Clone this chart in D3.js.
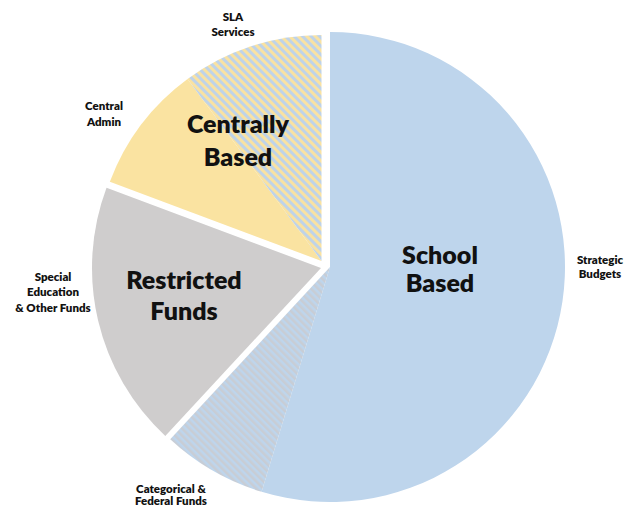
<!DOCTYPE html>
<html>
<head>
<meta charset="utf-8">
<script src="https://cdn.jsdelivr.net/npm/d3@7"></script>
<style>
  html, body { margin: 0; padding: 0; background: #ffffff; }
  svg { display: block; }
</style>
</head>
<body>
<svg id="chart" width="635" height="510"></svg>
<script>
// Budget shares (%) by funding line, clockwise from 12 o'clock
const segments = ["Strategic Budgets", "Categorical & Federal Funds", "Special Education & Other Funds", "Central Admin", "SLA Services"];
const shares = [54.7, 7.2, 18.8, 9.2, 10.1];
const segmentGroup = ["School Based", "School Based", "Restricted Funds", "Centrally Based", "Centrally Based"];
const groups = ["School Based", "Restricted Funds", "Centrally Based"];

// Text drawn for each funding line and each group
const segmentLabelLines = [["Strategic", "Budgets"], ["Categorical &", "Federal Funds"], ["Special", "Education", "& Other Funds"], ["Central", "Admin"], ["SLA", "Services"]];
const groupLabelLines = [["School", "Based"], ["Restricted", "Funds"], ["Centrally", "Based"]];

// ---- presentation ----
const fills = {
  "Strategic Budgets": "#bed5ec",
  "Categorical & Federal Funds": "url(#hatch-categorical)",
  "Special Education & Other Funds": "#cfcdcd",
  "Central Admin": "#fae3a1",
  "SLA Services": "url(#hatch-sla)"
};
// each group is pulled slightly apart from the others
const groupLayout = {
  "School Based":     { cx: 330,   cy: 267, r: 235 },
  "Restricted Funds": { cx: 321,   cy: 268, r: 229 },
  "Centrally Based":  { cx: 321.5, cy: 261, r: 226 }
};
const segmentLabelLayout = {
  "Strategic Budgets":               { x: 600, y: 263.5, dy: 14 },
  "Categorical & Federal Funds":     { x: 171, y: 492.5, dy: 12.5 },
  "Special Education & Other Funds": { x: 53,  y: 280.5, dy: 15.7 },
  "Central Admin":                   { x: 104, y: 110,   dy: 16 },
  "SLA Services":                    { x: 233, y: 21,    dy: 14.5 }
};
const groupLabelLayout = {
  "School Based":     { x: 440, y: 264, dy: 28 },
  "Restricted Funds": { x: 184, y: 289, dy: 30.5 },
  "Centrally Based":  { x: 238, y: 133, dy: 33 }
};
const fontFamily = "Lato, 'Open Sans', 'DejaVu Sans', sans-serif";

const svg = d3.select("#chart");

// stripe patterns for the two hatched funding lines
const defs = svg.append("defs");
function stripes(id, base, stripe, size, angle) {
  const p = defs.append("pattern")
    .attr("id", id)
    .attr("patternUnits", "userSpaceOnUse")
    .attr("width", size).attr("height", size)
    .attr("patternTransform", `rotate(${angle})`);
  p.append("rect").attr("width", size).attr("height", size).attr("fill", base);
  p.append("rect").attr("width", size / 2).attr("height", size).attr("fill", stripe);
}
stripes("hatch-sla", "#f9e2a2", "#bfd3e8", 6, -45);
stripes("hatch-categorical", "#bed5ec", "#c8cdd5", 5, -45);

const pie = d3.pie().sort(null).value(d => d.value).startAngle(0).endAngle(2 * Math.PI);
const slices = pie(segments.map((name, i) => ({ name, value: shares[i], group: segmentGroup[i] })));

const arc = d3.arc().innerRadius(0);

svg.append("g")
  .selectAll("path")
  .data(slices)
  .join("path")
  .attr("transform", d => {
    const g = groupLayout[d.data.group];
    return `translate(${g.cx},${g.cy})`;
  })
  .attr("d", d => arc.outerRadius(groupLayout[d.data.group].r)(d))
  .attr("fill", d => fills[d.data.name]);

// funding-line labels outside the pie
const segLabels = svg.append("g")
  .attr("font-family", fontFamily)
  .attr("font-weight", 800)
  .attr("font-size", 11.5)
  .attr("fill", "#111")
  .attr("text-anchor", "middle");

segments.forEach((name, i) => {
  const L = segmentLabelLayout[name];
  const t = segLabels.append("text");
  segmentLabelLines[i].forEach((line, j) => {
    t.append("tspan").attr("x", L.x).attr("y", L.y + j * L.dy).text(line);
  });
});

// group labels inside the pie
const grpLabels = svg.append("g")
  .attr("font-family", fontFamily)
  .attr("font-weight", 800)
  .attr("font-size", 25)
  .attr("fill", "#111")
  .attr("text-anchor", "middle");

groups.forEach((name, i) => {
  const L = groupLabelLayout[name];
  const t = grpLabels.append("text");
  groupLabelLines[i].forEach((line, j) => {
    t.append("tspan").attr("x", L.x).attr("y", L.y + j * L.dy).text(line);
  });
});
</script>
</body>
</html>
